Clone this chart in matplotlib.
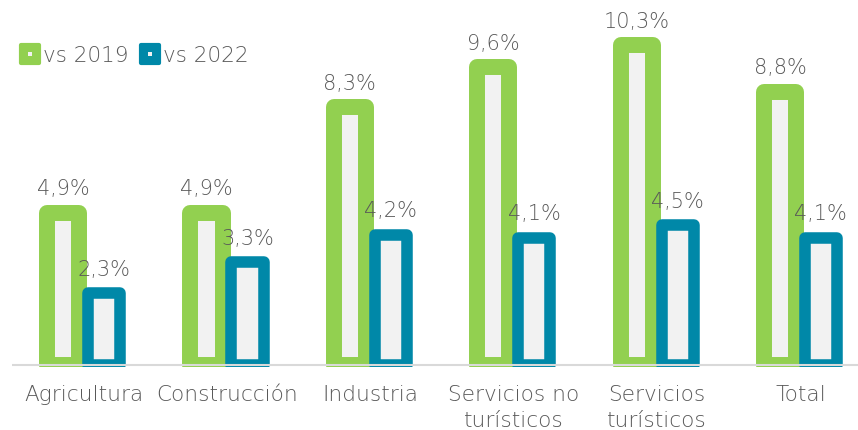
import matplotlib
matplotlib.use("Agg")
import matplotlib.pyplot as plt
from matplotlib.lines import Line2D
from matplotlib.markers import MarkerStyle
from matplotlib.legend_handler import HandlerTuple
import numpy as np

categories = ["Agricultura", "Construcción", "Industria", "Servicios no\nturísticos", "Servicios\nturísticos", "Total"]
vs2019 = [4.9, 4.9, 8.3, 9.6, 10.3, 8.8]
vs2022 = [2.3, 3.3, 4.2, 4.1, 4.5, 4.1]
series_names = ["vs 2019", "vs 2022"]

GREEN = "#92D050"
BLUE = "#0088A8"
FILL = "#F2F2F2"
TEXT = "#595959"
FONT = "DejaVu Sans"

plt.rcParams["font.family"] = [FONT]

fig = plt.figure(figsize=(8.58, 4.30), dpi=100)
ax = fig.add_axes([12/858, 63/430, (858-12)/858, 367/430])

x = np.arange(len(categories))
w = 0.2235
off = 0.143

b1 = ax.bar(x - off, vs2019, width=w, facecolor=FILL, edgecolor=GREEN, linewidth=11.5,
            joinstyle="round", zorder=2)
b2 = ax.bar(x + off, vs2022, width=w, facecolor=FILL, edgecolor=BLUE, linewidth=8.3,
            joinstyle="round", zorder=2.5)

for xi, v in zip(x - off, vs2019):
    ax.annotate(f"{v:.1f}".replace(".", ",") + "%", (xi, v), xytext=(0, 12.5),
                textcoords="offset points", ha="center", va="baseline",
                fontsize=15, color=TEXT, fontweight="light")
for xi, v in zip(x + off, vs2022):
    ax.annotate(f"{v:.1f}".replace(".", ",") + "%", (xi, v), xytext=(0, 12.5),
                textcoords="offset points", ha="center", va="baseline",
                fontsize=15, color=TEXT, fontweight="light")

ax.axhline(0, color="#D9D9D9", lw=1.5, zorder=3)

ax.set_xlim(-0.5, 5.402)
ax.set_ylim(-0.07, 11.76)
ax.set_xticks(x)
ax.set_xticklabels(categories, fontsize=15.6, color=TEXT, fontweight="light", linespacing=1.35)
ax.tick_params(axis="x", length=0, pad=13)
ax.set_yticks([])
for s in ax.spines.values():
    s.set_visible(False)

def handle(color):
    big = Line2D([], [], ls="", marker=MarkerStyle("s", joinstyle="round"), ms=13,
                 mfc=color, mec=color, mew=3)
    small = Line2D([], [], ls="", marker="s", ms=2.5, mfc=FILL, mec=FILL, mew=0)
    return (big, small)

leg = fig.legend([handle(GREEN), handle(BLUE)], series_names,
                 handler_map={tuple: HandlerTuple(ndivide=1, pad=0)},
                 loc="center left", bbox_to_anchor=(19/858, 1 - 56/430), ncol=2,
                 frameon=False, fontsize=15.5, handlelength=1.0, handletextpad=0.1,
                 columnspacing=0.5, borderpad=0, borderaxespad=0)
for t in leg.get_texts():
    t.set_color(TEXT)
    t.set_fontweight("light")

fig.savefig("out.png", dpi=100)
